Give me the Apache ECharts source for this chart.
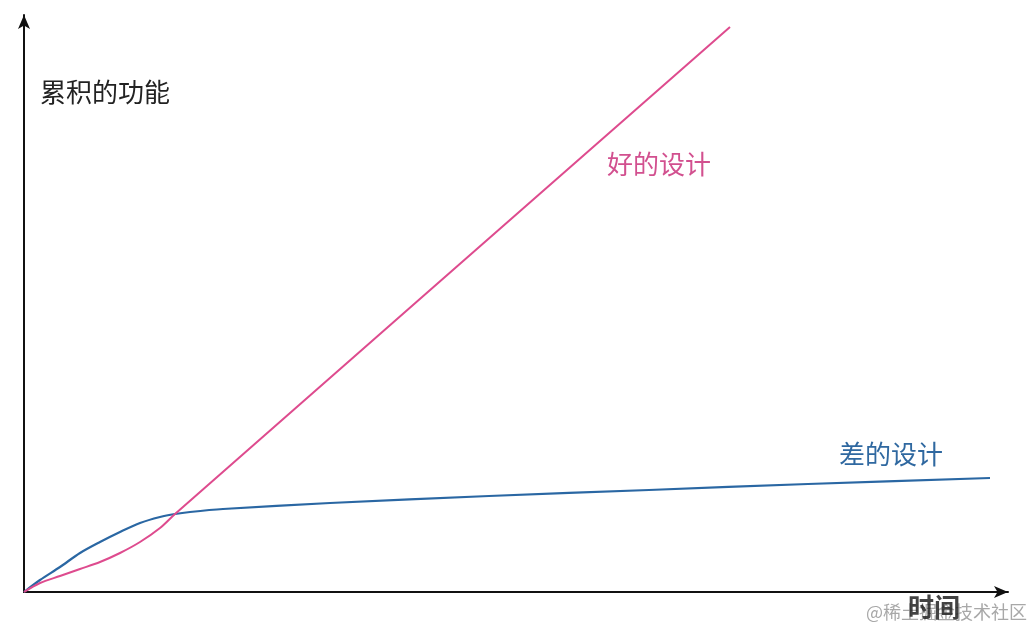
<!DOCTYPE html>
<html>
<head>
<meta charset="utf-8">
<script src="https://cdn.jsdelivr.net/npm/echarts@6/dist/echarts.min.js"></script>
<style>
html,body{margin:0;padding:0;background:#fff;}
#main{width:1034px;height:632px;}
</style>
</head>
<body>
<div id="main"></div>
<script>
// Time (arbitrary units) and accumulated functionality (arbitrary units)
const goodTime  = [0, 16, 36, 56, 76, 96, 116, 136, 151, 706];
const goodValue = [0, 9, 16, 23, 30, 39, 50, 64, 78, 565];
const badTime   = [0, 16, 36, 56, 76, 96, 116, 136, 151, 166, 199, 306, 465, 625, 784, 966];
const badValue  = [0, 12, 25, 39, 50, 60, 69, 75, 78, 80, 83, 89, 96, 102, 108, 114];

const yTitle = '累积的功能';
const xTitle = '时间';
const goodName = '好的设计';
const badName = '差的设计';
const watermark = '@稀土掘金技术社区';

const pink = '#de4b8e';
const blue = '#2a67a3';
const font = '"Noto Sans CJK SC", "Noto Sans", sans-serif';

const chart = echarts.init(document.getElementById('main'));
chart.setOption({
  backgroundColor: '#fff',
  animation: false,
  grid: { left: 24, right: 26, top: 15, bottom: 40 },
  xAxis: {
    type: 'value', min: 0, max: 984,
    axisLine: { show: true, symbol: ['none', 'arrow'], symbolSize: [9, 14], lineStyle: { color: '#111', width: 2 } },
    axisTick: { show: false }, axisLabel: { show: false }, splitLine: { show: false }
  },
  yAxis: {
    type: 'value', min: 0, max: 577,
    axisLine: { show: true, symbol: ['none', 'arrow'], symbolSize: [9, 14], lineStyle: { color: '#111', width: 2 } },
    axisTick: { show: false }, axisLabel: { show: false }, splitLine: { show: false }
  },
  series: [
    {
      name: goodName, type: 'line', smooth: 0.3, showSymbol: false,
      data: goodTime.map((t, i) => [t, goodValue[i]]),
      lineStyle: { color: pink, width: 2 }, z: 3
    },
    {
      name: badName, type: 'line', smooth: 0.3, showSymbol: false,
      data: badTime.map((t, i) => [t, badValue[i]]),
      lineStyle: { color: blue, width: 2.2 }, z: 2
    }
  ],
  graphic: [
    { type: 'text', left: 40, top: 79, style: { text: yTitle, font: '400 26px ' + font, fill: '#222' } },
    { type: 'text', left: 607, top: 151, style: { text: goodName, font: '400 26px ' + font, fill: '#d2508f' } },
    { type: 'text', left: 839, top: 441, style: { text: badName, font: '400 26px ' + font, fill: '#2f68a0' } },
    { type: 'text', left: 866, top: 603, style: { text: watermark, font: '400 18px ' + font, fill: '#a8a8a8' }, z: 10 },
    { type: 'text', left: 908, top: 594, style: { text: xTitle, font: '700 26px ' + font, fill: '#222', opacity: 0.85 }, z: 11 }
  ]
});
</script>
</body>
</html>
